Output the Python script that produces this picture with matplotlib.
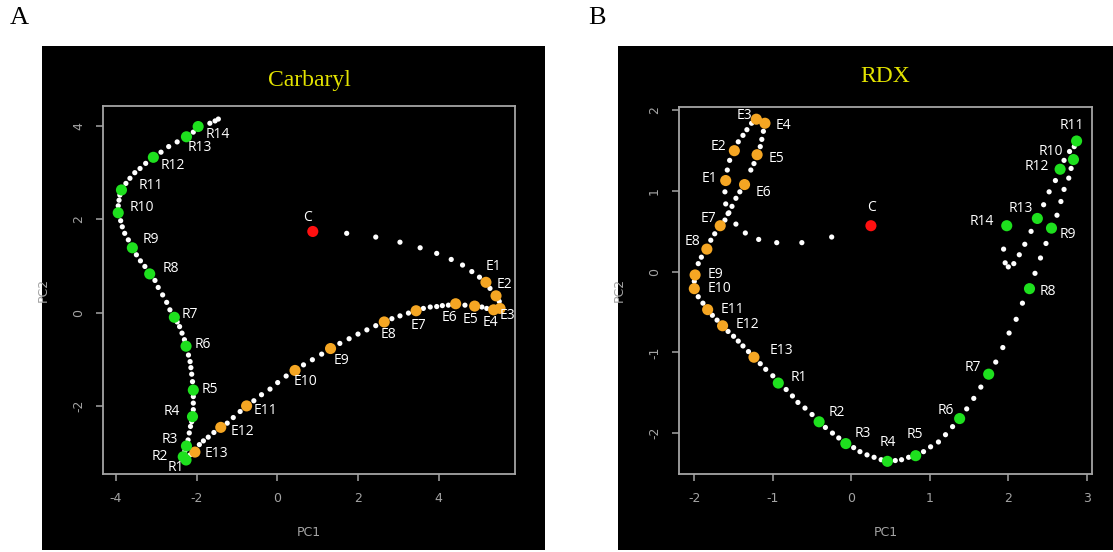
import matplotlib
matplotlib.use("Agg")
import matplotlib.pyplot as plt
from matplotlib.patches import Rectangle

plt.rcParams['axes.unicode_minus'] = False

# ---- Carbaryl (panel A) ----
carb_E_x = [5.17, 5.42, 5.52, 5.36, 4.89, 4.42, 3.44, 2.65, 1.32, 0.44, -0.76, -1.40, -2.04]
carb_E_y = [0.65, 0.36, 0.09, 0.06, 0.14, 0.19, 0.04, -0.20, -0.77, -1.24, -2.00, -2.46, -2.99]
carb_R_x = [-2.26, -2.33, -2.25, -2.10, -2.08, -2.26, -2.55, -3.16, -3.59, -3.94, -3.86, -3.07, -2.25, -1.96]
carb_R_y = [-3.16, -3.09, -2.86, -2.23, -1.66, -0.72, -0.10, 0.83, 1.39, 2.14, 2.63, 3.33, 3.77, 3.99]
carb_C = (0.88, 1.74)
carb_path_x = [1.72, 2.44, 3.04, 3.54, 3.95, 4.31, 4.59, 4.82, 5.01,
               5.27, 5.50, 5.45, 5.19, 5.07, 4.65,
               4.24, 4.09, 3.95, 3.79, 3.62,
               3.25, 3.04, 2.84,
               2.44, 2.22, 2.00, 1.78, 1.55,
               1.10, 0.87, 0.65,
               0.22, 0.01, -0.18, -0.39, -0.58,
               -0.92, -1.09, -1.24,
               -1.57, -1.71, -1.83, -1.93,
               -2.16, -2.29,
               -2.21, -2.18, -2.15, -2.12,
               -2.08, -2.08, -2.08,
               -2.10, -2.12, -2.14, -2.16, -2.20,
               -2.30, -2.36, -2.42, -2.48,
               -2.66, -2.74, -2.84, -2.95, -3.03,
               -3.28, -3.39, -3.49,
               -3.69, -3.78, -3.84, -3.88,
               -3.94, -3.92, -3.90,
               -3.75, -3.65, -3.53, -3.40, -3.26,
               -2.88, -2.69, -2.48,
               -2.08,
               -1.67, -1.54, -1.46]
carb_path_y = [1.70, 1.62, 1.51, 1.39, 1.27, 1.14, 1.02, 0.88, 0.76,
               0.52, 0.24, 0.08, 0.09, 0.12, 0.16,
               0.16, 0.15, 0.13, 0.12, 0.09,
               -0.01, -0.07, -0.13,
               -0.28, -0.37, -0.46, -0.56, -0.66,
               -0.89, -1.01, -1.12,
               -1.36, -1.50, -1.64, -1.76, -1.89,
               -2.12, -2.25, -2.37,
               -2.57, -2.67, -2.75, -2.83,
               -3.05, -2.97,
               -2.73, -2.58, -2.44, -2.34,
               -2.08, -1.94, -1.80,
               -1.48, -1.32, -1.18, -1.05, -0.91,
               -0.58, -0.44, -0.30, -0.20,
               0.06, 0.22, 0.38, 0.54, 0.69,
               0.99, 1.11, 1.24,
               1.56, 1.70, 1.84, 1.97,
               2.29, 2.41, 2.52,
               2.77, 2.88, 3.00, 3.09, 3.20,
               3.44, 3.56, 3.66,
               3.87,
               4.06, 4.11, 4.15]

# ---- RDX (panel B) ----
rdx_E_x = [-1.60, -1.49, -1.21, -1.10, -1.20, -1.36, -1.67, -1.84, -1.99, -2.00, -1.83, -1.64, -1.24]
rdx_E_y = [1.13, 1.50, 1.89, 1.84, 1.45, 1.08, 0.57, 0.28, -0.04, -0.21, -0.47, -0.67, -1.06]
rdx_R_x = [-0.93, -0.41, -0.07, 0.46, 0.82, 1.38, 1.75, 2.27, 2.55, 2.83, 2.87, 2.66, 2.37, 1.98]
rdx_R_y = [-1.38, -1.86, -2.13, -2.35, -2.28, -1.82, -1.27, -0.21, 0.54, 1.39, 1.62, 1.27, 0.66, 0.57]
rdx_C = (0.25, 0.57)
rdx_path_x = [-0.25, -0.63, -0.95, -1.18, -1.35, -1.47, -1.56, -1.60, -1.61,
              -1.58, -1.55,
              -1.44, -1.38, -1.33, -1.27, -1.16,
              -1.12, -1.14, -1.16,
              -1.24, -1.28,
              -1.42, -1.47, -1.52, -1.57, -1.61,
              -1.74, -1.79,
              -1.91, -1.95,
              -2.00,
              -1.95, -1.89,
              -1.77, -1.71,
              -1.57, -1.50, -1.44, -1.38, -1.31,
              -1.16, -1.09, -1.00,
              -0.83, -0.75, -0.68, -0.59, -0.50,
              -0.33, -0.24, -0.16,
              0.03, 0.11, 0.20, 0.29, 0.38,
              0.56, 0.64, 0.73,
              0.92, 1.01, 1.11, 1.20, 1.29,
              1.47, 1.56, 1.65,
              1.84, 1.93, 2.01, 2.10, 2.18,
              2.34, 2.41, 2.48,
              2.62, 2.67, 2.71, 2.77, 2.80,
              2.84,
              2.78, 2.71,
              2.60, 2.52, 2.45,
              2.29, 2.21, 2.14, 2.07, 2.00, 1.96, 1.94]
rdx_path_y = [0.43, 0.36, 0.36, 0.40, 0.48, 0.59, 0.73, 0.84, 0.99,
              1.26, 1.38,
              1.61, 1.69, 1.76, 1.84, 1.87,
              1.74, 1.64, 1.55,
              1.34, 1.26,
              0.99, 0.91, 0.81, 0.72, 0.64,
              0.47, 0.39,
              0.18, 0.10,
              -0.12,
              -0.31, -0.39,
              -0.54, -0.60,
              -0.74, -0.80, -0.86, -0.92, -0.99,
              -1.14, -1.21, -1.29,
              -1.46, -1.54, -1.62, -1.69, -1.77,
              -1.93, -2.00, -2.06,
              -2.18, -2.23, -2.27, -2.30, -2.33,
              -2.34, -2.33, -2.30,
              -2.23, -2.17, -2.11, -2.02, -1.92,
              -1.70, -1.57, -1.43,
              -1.12, -0.94, -0.76, -0.59, -0.39,
              -0.02, 0.17, 0.35,
              0.70, 0.87, 1.02, 1.16, 1.28,
              1.55,
              1.49, 1.38,
              1.13, 0.99, 0.83,
              0.50, 0.34, 0.21, 0.10, 0.06, 0.11, 0.28]

E_names = ['E%d' % i for i in range(1, 14)]
R_names = ['R%d' % i for i in range(1, 15)]

# label offsets in pixels (dx right, dy down)
carb_E_off = [(8, -16), (8, -11), (7, 7), (-3, 13), (-4, 13), (-6, 14), (2, 15), (4, 13),
              (11, 12), (10, 11), (19, 5), (22, 4), (22, 1)]
carb_R_off = [(-10, 7), (-23, 0), (-17, -7), (-21, -5), (17, -1), (17, -2), (16, -3), (21, -5),
              (19, -8), (24, -5), (29, -4), (19, 8), (13, 11), (20, 8)]
carb_C_off = (-5, -14)
rdx_E_off = [(-16, -2), (-16, -4), (-12, -4), (18, 2), (19, 4), (19, 8), (-12, -7), (-14, -8),
             (20, 0), (25, 0), (25, 0), (25, -1), (27, -7)]
rdx_R_off = [(21, -6), (18, -9), (17, -10), (0, -19), (-1, -21), (-14, -8), (-16, -7), (18, 3),
             (16, 6), (-23, -8), (-5, -15), (-23, -3), (-17, -10), (-25, -4)]
rdx_C_off = (1, -18)

W, H = 1113, 552
fig = plt.figure(figsize=(W / 100, H / 100), dpi=100)
fig.patch.set_facecolor('white')

# black panel backgrounds (pixel boxes: left, top, right, bottom)
for l, t, r, b in [(42, 46, 545, 550), (618, 46, 1113, 550)]:
    fig.add_artist(Rectangle((l / W, 1 - b / H), (r - l) / W, (b - t) / H,
                             transform=fig.transFigure, facecolor='black', edgecolor='none', zorder=0))

fig.text(19 / W, 1 - 18 / H, 'A', family='Liberation Serif', fontsize=19, ha='center', va='center')
fig.text(597 / W, 1 - 18 / H, 'B', family='Liberation Serif', fontsize=19, ha='center', va='center')

gray = '#a4a4a4'
green = '#1ee01e'
orange = '#f5a623'


def make_axes(l, t, r, b):
    ax = fig.add_axes([l / W, 1 - b / H, (r - l) / W, (b - t) / H])
    ax.set_facecolor('black')
    for s in ax.spines.values():
        s.set_color(gray)
        s.set_linewidth(1.3)
    ax.tick_params(colors=gray, length=5, width=1.1, pad=8, labelsize=9)
    ax.set_xlabel('PC1', color=gray, fontsize=9, labelpad=15)
    ax.set_ylabel('PC2', color=gray, fontsize=9, labelpad=16)
    return ax


def draw(ax, px, py, ex, ey, rx, ry, c, e_off, r_off, c_off):
    ax.scatter(px, py, s=14, color='white', edgecolors='none', zorder=2)
    ax.scatter(ex, ey, s=64, color=orange, edgecolors='none', zorder=3)
    ax.scatter(rx, ry, s=64, color=green, edgecolors='none', zorder=3)
    ax.scatter([c[0]], [c[1]], s=64, color='#ff1010', edgecolors='none', zorder=3)
    pts = list(zip(ex, ey, E_names, e_off)) + list(zip(rx, ry, R_names, r_off)) + [(c[0], c[1], 'C', c_off)]
    for x, y, name, (dx, dy) in pts:
        ax.annotate(name, (x, y), xytext=(dx * 0.72, -dy * 0.72), textcoords='offset points',
                    ha='center', va='center', color='white', fontsize=10, family='Open Sans', zorder=4)


axA = make_axes(103.3, 106, 515, 474)
axA.set_xlim(-4.31, 5.89)
axA.set_ylim(-3.46, 4.43)
axA.set_xticks([-4, -2, 0, 2, 4])
axA.set_xticklabels(['-4', '-2', '0', '2', '4'])
axA.set_yticks([-2, 0, 2, 4])
axA.set_yticklabels(['-2', '0', '2', '4'], rotation=90, va='center')
draw(axA, carb_path_x, carb_path_y, carb_E_x, carb_E_y, carb_R_x, carb_R_y, carb_C,
     carb_E_off, carb_R_off, carb_C_off)
axA.set_title('Carbaryl', color='#e3e300', family='Liberation Serif', fontsize=17, pad=14.5)

axB = make_axes(679, 106.7, 1092.3, 474)
axB.set_xlim(-2.195, 3.07)
axB.set_ylim(-2.507, 2.045)
axB.set_xticks([-2, -1, 0, 1, 2, 3])
axB.set_xticklabels(['-2', '-1', '0', '1', '2', '3'])
axB.set_yticks([-2, -1, 0, 1, 2])
axB.set_yticklabels(['-2', '-1', '0', '1', '2'], rotation=90, va='center')
draw(axB, rdx_path_x, rdx_path_y, rdx_E_x, rdx_E_y, rdx_R_x, rdx_R_y, rdx_C,
     rdx_E_off, rdx_R_off, rdx_C_off)
axB.set_title('RDX', color='#e3e300', family='Liberation Serif', fontsize=17, pad=18)

fig.savefig('out.png', dpi=100, facecolor='white')
